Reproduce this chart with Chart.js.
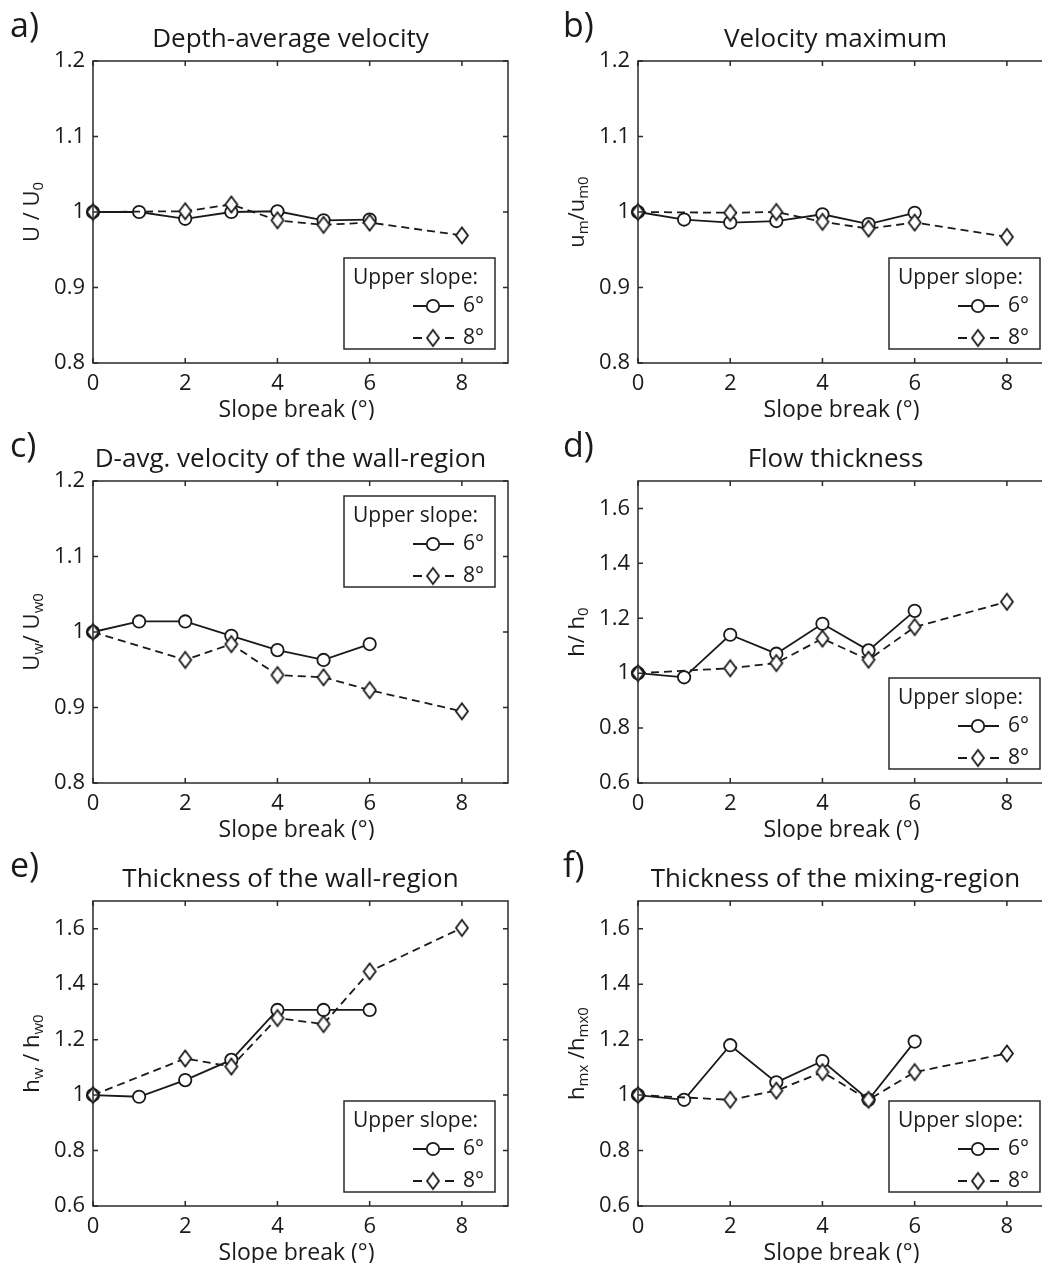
<!DOCTYPE html>
<html>
<head>
<meta charset="utf-8">
<script src="https://cdn.jsdelivr.net/npm/chart.js@4.4.1/dist/chart.umd.min.js"></script>
<style>
html, body { margin: 0; padding: 0; background: #fff; overflow: hidden; }
#page { position: relative; width: 1042px; height: 1263px; overflow: hidden; }
#page canvas { position: absolute; }
</style>
</head>
<body>
<div id="page">
  <canvas id="pa" width="520" height="420" style="left:0;top:0"></canvas>
  <canvas id="pb" width="545" height="420" style="left:520px;top:0"></canvas>
  <canvas id="pc" width="520" height="420" style="left:0;top:420px"></canvas>
  <canvas id="pd" width="545" height="420" style="left:520px;top:420px"></canvas>
  <canvas id="pe" width="520" height="423" style="left:0;top:840px"></canvas>
  <canvas id="pf" width="545" height="423" style="left:520px;top:840px"></canvas>
</div>
<script>
// slope break angles (deg) for the two upper slopes
var breaks6 = [0, 1, 2, 3, 4, 5, 6];
var breaks8 = [0, 2, 3, 4, 5, 6, 8];
var xTicks = [0, 2, 4, 6, 8];
var velTicks = [0.8, 0.9, 1, 1.1, 1.2];
var thickTicks = [0.6, 0.8, 1, 1.2, 1.4, 1.6];
var legendTitle = "Upper slope:";
var seriesNames = ["6°", "8°"];
var xTitle = "Slope break (°)";

// values (normalised by the 0° case)
var depthAvg6 = [1.0, 1.0, 0.991, 1.0, 1.001, 0.989, 0.990];
var depthAvg8 = [1.0, 1.001, 1.010, 0.989, 0.983, 0.986, 0.969];
var velMax6 = [1.0, 0.990, 0.986, 0.988, 0.997, 0.984, 0.999];
var velMax8 = [1.0, 0.999, 1.0, 0.987, 0.978, 0.986, 0.967];
var wallVel6 = [1.0, 1.014, 1.014, 0.995, 0.976, 0.963, 0.984];
var wallVel8 = [1.0, 0.963, 0.984, 0.943, 0.940, 0.923, 0.895];
var flowThick6 = [1.0, 0.985, 1.14, 1.071, 1.18, 1.083, 1.227];
var flowThick8 = [1.0, 1.018, 1.037, 1.126, 1.049, 1.168, 1.26];
var wallThick6 = [1.0, 0.994, 1.054, 1.127, 1.307, 1.307, 1.307];
var wallThick8 = [1.0, 1.132, 1.103, 1.278, 1.256, 1.446, 1.603];
var mixThick6 = [1.0, 0.983, 1.18, 1.046, 1.123, 0.983, 1.193];
var mixThick8 = [1.0, 0.983, 1.016, 1.083, 0.983, 1.083, 1.15];

var INK = "#1a1a1a";
var FRAME = "#2a2a2a";
var FONT = "'Open Sans', sans-serif";
var LW = 1.8;

Chart.defaults.font.family = FONT;
Chart.defaults.color = INK;

function diamondImage() {
    var c = document.createElement("canvas");
    c.width = 16;
    c.height = 21;
    var g = c.getContext("2d");
    g.beginPath();
    g.moveTo(8, 2.5);
    g.lineTo(14, 10.5);
    g.lineTo(8, 18.5);
    g.lineTo(2, 10.5);
    g.closePath();
    g.fillStyle = "#fff";
    g.fill();
    g.lineWidth = LW;
    g.strokeStyle = INK;
    g.stroke();
    return c;
}
var diamond = diamondImage();

function pts(xs, ys) {
    return xs.map(function (x, i) { return { x: x, y: ys[i] }; });
}

var panels = [
    { id: "pa", letter: "a)", title: "Depth-average velocity",
      ylab: [["U / U", 0], ["0", 1]], s6: depthAvg6, s8: depthAvg8,
      ymin: 0.8, ymax: 1.2, yticks: velTicks, legend: "bottom", left: 93 },
    { id: "pb", letter: "b)", title: "Velocity maximum",
      ylab: [["u", 0], ["m", 1], ["/u", 0], ["m0", 1]], s6: velMax6, s8: velMax8,
      ymin: 0.8, ymax: 1.2, yticks: velTicks, legend: "bottom", left: 118 },
    { id: "pc", letter: "c)", title: "D-avg. velocity of the wall-region",
      ylab: [["U", 0], ["w", 1], ["/ U", 0], ["w0", 1]], s6: wallVel6, s8: wallVel8,
      ymin: 0.8, ymax: 1.2, yticks: velTicks, legend: "top", left: 93 },
    { id: "pd", letter: "d)", title: "Flow thickness",
      ylab: [["h/ h", 0], ["0", 1]], s6: flowThick6, s8: flowThick8,
      ymin: 0.6, ymax: 1.7, yticks: thickTicks, legend: "bottom", left: 118 },
    { id: "pe", letter: "e)", title: "Thickness of the wall-region",
      ylab: [["h", 0], ["w", 1], [" / h", 0], ["w0", 1]], s6: wallThick6, s8: wallThick8,
      ymin: 0.6, ymax: 1.7, yticks: thickTicks, legend: "bottom", left: 93 },
    { id: "pf", letter: "f)", title: "Thickness of the mixing-region",
      ylab: [["h", 0], ["mx", 1], [" /h", 0], ["mx0", 1]], s6: mixThick6, s8: mixThick8,
      ymin: 0.6, ymax: 1.7, yticks: thickTicks, legend: "bottom", left: 118 }
];

var matlabAxes = {
    id: "matlabAxes",
    afterDraw: function (chart) {
        var p = chart.options.plugins.matlabAxes;
        var ctx = chart.ctx;
        var a = chart.chartArea;
        var xs = chart.scales.x, ys = chart.scales.y;
        ctx.save();
        ctx.strokeStyle = FRAME;
        ctx.fillStyle = INK;
        ctx.lineWidth = 1.5;
        ctx.setLineDash([]);
        // box
        ctx.strokeRect(a.left, a.top, a.right - a.left, a.bottom - a.top);
        // inward ticks
        ctx.beginPath();
        xTicks.forEach(function (v) {
            var px = xs.getPixelForValue(v);
            ctx.moveTo(px, a.bottom); ctx.lineTo(px, a.bottom - 5);
            ctx.moveTo(px, a.top); ctx.lineTo(px, a.top + 5);
        });
        p.yticks.forEach(function (v) {
            var py = ys.getPixelForValue(v);
            ctx.moveTo(a.left, py); ctx.lineTo(a.left + 5, py);
            ctx.moveTo(a.right, py); ctx.lineTo(a.right - 5, py);
        });
        ctx.stroke();

        // panel letter, title, x title
        ctx.textBaseline = "middle";
        ctx.textAlign = "left";
        ctx.font = "34px " + FONT;
        ctx.fillText(p.letter, p.letterX, 27);
        ctx.textAlign = "center";
        ctx.font = "26px " + FONT;
        ctx.fillText(p.title, (a.left + a.right) / 2 - 10, 40);
        ctx.font = "23px " + FONT;
        ctx.fillText(xTitle, (a.left + a.right) / 2 - 4, a.bottom + 47);

        // rotated y label with subscripts
        ctx.save();
        ctx.translate(a.left - 60, (a.top + a.bottom) / 2);
        ctx.rotate(-Math.PI / 2);
        ctx.textAlign = "left";
        var total = 0;
        p.ylab.forEach(function (s) {
            ctx.font = (s[1] ? "15px " : "22px ") + FONT;
            total += ctx.measureText(s[0]).width;
        });
        var cx = -total / 2;
        p.ylab.forEach(function (s) {
            ctx.font = (s[1] ? "15px " : "22px ") + FONT;
            ctx.fillText(s[0], cx, s[1] ? 6 : 0);
            cx += ctx.measureText(s[0]).width;
        });
        ctx.restore();

        // legend box
        var w = 151, h = 91;
        var lx = a.right - 13 - w;
        var ly = p.legend === "top" ? a.top + 15 : a.bottom - 14 - h;
        ctx.fillStyle = "#fff";
        ctx.fillRect(lx, ly, w, h);
        ctx.strokeRect(lx, ly, w, h);
        ctx.fillStyle = INK;
        ctx.strokeStyle = INK;
        ctx.lineWidth = LW;
        ctx.textAlign = "left";
        ctx.font = "21px " + FONT;
        ctx.fillText(legendTitle, lx + 9, ly + 20);
        chart.data.datasets.forEach(function (ds, i) {
            var ry = ly + 48 + 32 * i;
            var mx = lx + 89;
            ctx.beginPath();
            if (ds.borderDash && ds.borderDash.length) {
                ctx.moveTo(lx + 69, ry); ctx.lineTo(lx + 78, ry);
                ctx.moveTo(lx + 101, ry); ctx.lineTo(lx + 110, ry);
            } else {
                ctx.moveTo(lx + 69, ry); ctx.lineTo(lx + 110, ry);
            }
            ctx.stroke();
            if (ds.pointStyle === "circle") {
                ctx.beginPath();
                ctx.arc(mx, ry, 6.2, 0, Math.PI * 2);
                ctx.fillStyle = "#fff";
                ctx.fill();
                ctx.stroke();
            } else {
                ctx.drawImage(diamond, mx - 8, ry - 10.5);
            }
            ctx.fillStyle = INK;
            ctx.fillText(seriesNames[i], lx + 119, ry);
        });
        ctx.restore();
    }
};

panels.forEach(function (p) {
    new Chart(document.getElementById(p.id), {
        type: "line",
        data: {
            datasets: [
                {
                    label: seriesNames[0],
                    data: pts(breaks6, p.s6),
                    borderColor: INK,
                    borderWidth: LW,
                    pointStyle: "circle",
                    pointRadius: 6.2,
                    pointBorderWidth: LW,
                    pointBackgroundColor: "#fff",
                    pointBorderColor: INK,
                    tension: 0,
                    clip: false,
                    order: 1
                },
                {
                    label: seriesNames[1],
                    data: pts(breaks8, p.s8),
                    borderColor: INK,
                    borderWidth: LW,
                    borderDash: [8, 5],
                    pointStyle: diamond,
                    pointRadius: 7,
                    tension: 0,
                    clip: false,
                    order: 0
                }
            ]
        },
        options: {
            responsive: false,
            animation: false,
            devicePixelRatio: 1,
            layout: { padding: { top: 61, right: 12, left: 0, bottom: 0 } },
            scales: {
                x: {
                    type: "linear",
                    min: 0,
                    max: 9,
                    afterBuildTicks: function (s) {
                        s.ticks = xTicks.map(function (v) { return { value: v }; });
                    },
                    afterFit: function (s) { s.height = 57; },
                    ticks: {
                        font: { size: 22 },
                        color: INK,
                        padding: 8,
                        maxRotation: 0
                    },
                    grid: { display: false, drawTicks: false },
                    border: { display: false }
                },
                y: {
                    min: p.ymin,
                    max: p.ymax,
                    afterBuildTicks: function (s) {
                        s.ticks = p.yticks.map(function (v) { return { value: v }; });
                    },
                    afterFit: function (s) { s.width = p.left; },
                    ticks: {
                        font: { size: 22 },
                        color: INK,
                        padding: 8,
                        callback: function (v) { return String(Math.round(v * 10) / 10); }
                    },
                    grid: { display: false, drawTicks: false },
                    border: { display: false }
                }
            },
            plugins: {
                legend: { display: false },
                tooltip: { enabled: false },
                matlabAxes: {
                    letter: p.letter,
                    letterX: p.left === 93 ? 10 : 43,
                    title: p.title,
                    ylab: p.ylab,
                    yticks: p.yticks,
                    legend: p.legend
                }
            }
        },
        plugins: [matlabAxes]
    });
});
</script>
</body>
</html>
